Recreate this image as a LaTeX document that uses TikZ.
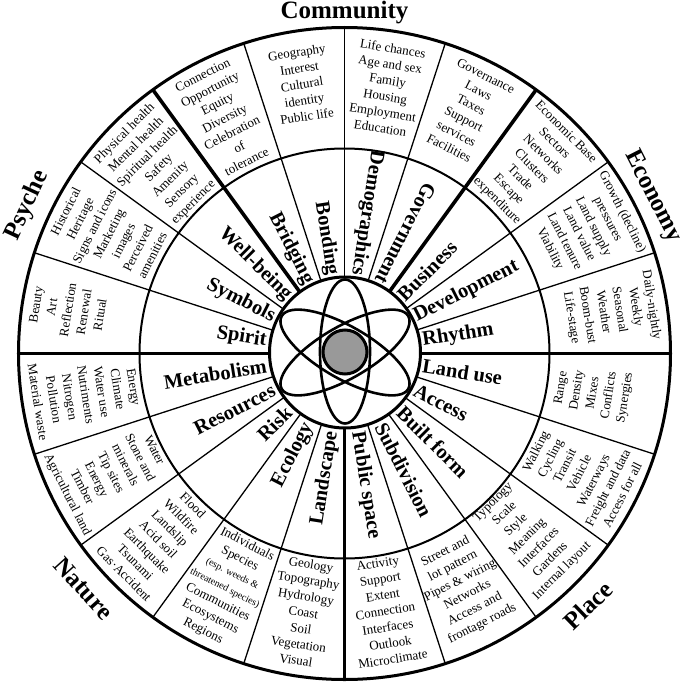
\documentclass[tikz,border=0pt]{standalone}
\usepackage{fontspec}
\setmainfont{Liberation Serif}
\definecolor{nucleus}{gray}{0.6}
\begin{document}
\begin{tikzpicture}[x=1pt,y=1pt,
  thinspoke/.style={line width=1.3pt},
  thickspoke/.style={line width=3.6pt},
  outtext/.style={font=\fontsize{13}{16.2}\selectfont, align=center, inner sep=0pt},
  inlabel/.style={font=\fontsize{20.5}{24}\selectfont\bfseries, inner sep=0pt},
  outlab/.style={inlabel, anchor=west},
  inwlab/.style={inlabel, anchor=east},
  domainlabel/.style={font=\fontsize{25}{30}\selectfont\bfseries, inner sep=0pt},
  orbit/.style={line width=2.6pt},
]
\useasboundingbox (-344.5,-327.5) rectangle (340.5,353.5);
% spokes
\foreach \a in {18,36,72,90,108,144,162,198,216,234,252,288,306,324,342}
  \draw[thinspoke] (\a:75.5) -- (\a:326);
\foreach \a in {0,54,126,180,270}
  \draw[thickspoke] (\a:75.5) -- (\a:326);
\draw[line width=2pt] (0,0) circle (205);
\draw[line width=3pt] (0,0) circle (326);
% atom
\draw[line width=3pt, fill=white] (0.5,1) circle (75.5);
\draw[orbit] (0.5,2) ellipse [x radius=25, y radius=72];
\draw[orbit, rotate around={30:(0.5,1)}] (0.5,1) ellipse [x radius=73, y radius=26];
\draw[orbit, rotate around={-30:(0.5,1)}] (0.5,1) ellipse [x radius=73, y radius=26];
\draw[line width=3pt, fill=nucleus] (0.5,1.5) circle (22);
% inner ring labels
\node[outlab, rotate=9] (rhythm) at (9:79) {Rhythm};
\node[outlab, rotate=27] (development) at (27:79) {Development};
\node[outlab, rotate=45] (business) at (45:79) {Business};
\node[outlab, rotate=-9] (landuse) at (-9:79) {Land use};
\node[outlab, rotate=-27] (access) at (-27:79) {Access};
\node[outlab, rotate=-45] (builtform) at (-45:79) {Built form};
\node[outlab, rotate=-63] (subdivision) at (-63:79) {Subdivision};
\node[outlab, rotate=-81] (publicspace) at (-81:79) {Public space};
\node[inwlab, rotate=243] (government) at (63:79) {Government};
\node[inwlab, rotate=261] (demographics) at (81:79) {Demographics};
\node[inwlab, rotate=279] (bonding) at (99:79) {Bonding};
\node[inwlab, rotate=297] (bridging) at (117:79) {Bridging};
\node[inwlab, rotate=315] (wellbeing) at (135:79) {Well-being};
\node[inwlab, rotate=333] (symbols) at (153:79) {Symbols};
\node[inwlab, rotate=351] (spirit) at (171:79) {Spirit};
\node[inwlab, rotate=9] (metabolism) at (189:79) {Metabolism};
\node[inwlab, rotate=27] (resources) at (207:79) {Resources};
\node[inwlab, rotate=45] (risk) at (225:79) {Risk};
\node[inwlab, rotate=63] (ecology) at (243:79) {Ecology};
\node[inwlab, rotate=81] (landscape) at (261:79) {Landscape};
% outer ring texts, upper half
\node[outtext, rotate=27] (t117) at (117:264) {Connection\\Opportunity\\Equity\\Diversity\\Celebration\\of\\tolerance};
\node[outtext, rotate=9] (t99) at (99:272.5) {Geography\\Interest\\Cultural\\identity\\Public life};
\node[outtext, rotate=-9] (t81) at (81:268.5) {Life chances\\Age and sex\\Family\\Housing\\Employment\\Education};
\node[outtext, rotate=-27] (t63) at (63:271) {Governance\\Laws\\Taxes\\Support\\services\\Facilities};
\node[outtext, rotate=-45] (t45) at (45:264) {Economic Base\\Sectors\\Networks\\Clusters\\Trade\\Escape\\expenditure};
\node[outtext, rotate=-63] (t27) at (27:271) {Growth (decline)\\pressures\\Land supply\\Land value\\Land tenure\\Viability};
\node[outtext, rotate=-81] (t9) at (9:270) {Daily-nightly\\Weekly\\Seasonal\\Weather\\Boom-bust\\Life-stage};
\node[outtext, rotate=45] (t135) at (135:262) {Physical health\\Mental health\\Spiritual health\\Safety\\Amenity\\Sensory\\experience};
\node[outtext, rotate=63] (t153) at (153:264.5) {Historical\\Heritage\\Signs and icons\\Marketing\\images\\Perceived\\amenities};
\node[outtext, rotate=81] (t171) at (171:280) {Beauty\\Art\\Reflection\\Renewal\\Ritual};
% outer ring texts, lower half
\node[outtext, rotate=-81] (t189) at (189:262) {Energy\\Climate\\Water use\\Nutriments\\Nitrogen\\Pollution\\Material waste};
\node[outtext, rotate=-63] (t207) at (207:263) {Water\\Stone and\\minerals\\Tip sites\\Energy\\Timber\\Agricultural land};
\node[outtext, rotate=-45] (t225) at (225:263) {Flood\\Wildfire\\Landslip\\Acid soil\\Earthquake\\Tsunami\\Gas·Accident};
\node[outtext, rotate=-27] (t243) at (243:263) {Individuals\\Species\\{\fontsize{10}{11}\selectfont (esp. weeds \&}\\{\fontsize{10}{11}\selectfont threatened species)}\\Communities\\Ecosystems\\Regions};
\node[outtext, rotate=-9] (t261) at (261:262) {Geology\\Topography\\Hydrology\\Coast\\Soil\\Vegetation\\Visual};
\node[outtext, rotate=9] (t279) at (279:261) {Activity\\Support\\Extent\\Connection\\Interfaces\\Outlook\\Microclimate};
\node[outtext, rotate=27] (t297) at (297:263) {Street and\\lot pattern\\Pipes \& wiring\\Networks\\Access and\\frontage roads};
\node[outtext, rotate=45] (t315) at (315:259) {Typology\\Scale\\Style\\Meaning\\Interfaces\\Gardens\\Internal layout};
\node[outtext, rotate=63] (t333) at (333:263) {Walking\\Cycling\\Transit\\Vehicle\\Waterways\\Freight and data\\Access for all};
\node[outtext, rotate=81] (t351) at (351:252) {Range\\Density\\Mixes\\Conflicts\\Synergies};
% domain labels
\node[domainlabel] (community) at (90:341) {Community};
\node[domainlabel, rotate=-63] (economy) at (27:346) {Economy};
\node[domainlabel, rotate=65] (psyche) at (155:350) {Psyche};
\node[domainlabel, rotate=-48] (nature) at (222:351) {Nature};
\node[domainlabel, rotate=44] (place) at (314:350) {Place};
\end{tikzpicture}
\end{document}
